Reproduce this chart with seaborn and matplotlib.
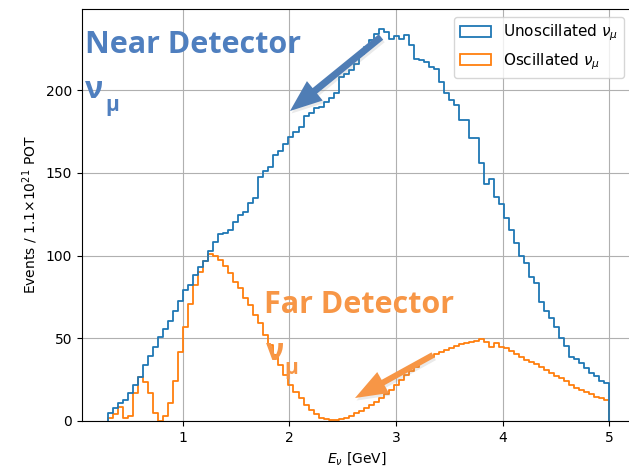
import numpy as np
import pandas as pd
import matplotlib
matplotlib.use("Agg")
import matplotlib.pyplot as plt
from matplotlib.patches import FancyArrow, Patch
from matplotlib.transforms import IdentityTransform
import seaborn as sns

# Binning of the neutrino energy spectrum [GeV]
E_MIN, E_MAX, N_BINS = 0.3, 5.0, 100

# Near-detector (unoscillated) muon-neutrino events per bin
unoscillated = [
    4.6, 7.7, 11, 12.7, 16.7, 21.7, 26.4, 33.8, 39.3, 44.9,
    50.6, 55.4, 60.6, 66.7, 72.7, 79, 82, 88, 93, 97,
    103, 108, 113, 113.5, 115.4, 120.4, 124.5, 126.5, 131.5, 134.6,
    147.6, 151, 153.7, 160.7, 163, 167.2, 171.8, 174.8, 177.8, 184.5,
    185.9, 189, 190, 193, 195, 198, 208, 210, 212, 216,
    222, 226, 230, 234, 237, 235, 231, 232.6, 231, 233,
    227, 219, 218, 217, 214, 213, 205, 198, 194, 191,
    182, 182, 171, 171, 156, 143, 146, 135.5, 131, 122.5,
    115.4, 107.8, 99.7, 95.7, 87.2, 83.2, 72, 66.7, 62, 56.6,
    50, 45.3, 38.9, 37.3, 34.8, 31.8, 28.8, 27.2, 24.4, 23,
]

# Far-detector (oscillated) muon-neutrino events per bin
oscillated = [
    2, 4, 8.7, 2, 3, 16.7, 26.8, 23.8, 16.7, 5,
    0.2, 3, 10.7, 24, 42, 57, 71, 82, 90, 97,
    101, 100, 97.3, 93.8, 89.2, 84.2, 80.2, 74.1, 70.1, 64,
    59, 52, 45.9, 39.9, 33.8, 27.8, 21.7, 17.7, 13.7, 9.7,
    6.6, 4, 2, 1.2, 0.6, 0.6, 1.2, 2, 3.2, 4.6,
    6, 7.7, 9.7, 11.7, 14.1, 16.1, 18.7, 21.8, 24.8, 27.8,
    30.2, 32.8, 35.4, 37.4, 38.9, 40.3, 41.9, 42.9, 43.9, 45.5,
    46.3, 46.9, 47.9, 48.5, 49.5, 47.5, 44.9, 46.9, 44.9, 43.9,
    42.3, 40.3, 38.5, 36.9, 35.4, 34.2, 32.8, 30.8, 28.8, 27.4,
    25.8, 24.2, 21.8, 20.1, 18.7, 17.7, 16.1, 14.7, 13.7, 12.7,
]

series_labels = ["Unoscillated $\\nu_\\mu$", "Oscillated $\\nu_\\mu$"]
x_ticks = [1, 2, 3, 4, 5]
y_ticks = [0, 50, 100, 150, 200]

LINE_COLORS = ["#1f77b4", "#ff7f0e"]
BLUE_NOTE = "#4f7fbf"
ORANGE_NOTE = "#f79646"

bin_width = (E_MAX - E_MIN) / N_BINS
centers = E_MIN + bin_width * (np.arange(N_BINS) + 0.5)
df = pd.concat(
    [
        pd.DataFrame({"energy": centers, "events": unoscillated, "sample": series_labels[0]}),
        pd.DataFrame({"energy": centers, "events": oscillated, "sample": series_labels[1]}),
    ],
    ignore_index=True,
)

sns.set_style(
    "ticks",
    rc={
        "axes.grid": True,
        "grid.color": "#b0b0b0",
        "grid.linewidth": 0.8,
        "axes.edgecolor": "black",
        "axes.linewidth": 0.8,
        "xtick.color": "black",
        "ytick.color": "black",
        "text.color": "black",
        "axes.labelcolor": "black",
    },
)
plt.rcParams["font.family"] = ["DejaVu Sans"]
plt.rcParams["mathtext.fontset"] = "dejavusans"

W, H = 629, 472
fig = plt.figure(figsize=(W / 100, H / 100), dpi=100)
ax = fig.add_axes([82 / W, 51 / H, 550 / W, 412 / H])

sns.histplot(
    data=df, x="energy", weights="events", hue="sample", hue_order=series_labels,
    bins=N_BINS, binrange=(E_MIN, E_MAX), element="step", fill=False,
    palette=LINE_COLORS, linewidth=1.3, legend=False, ax=ax,
)

# Close each step outline down to zero at both ends, like a step histogram
for line in ax.lines:
    xs, ys = line.get_data()
    xs = np.asarray(xs, dtype=float)
    ys = np.asarray(ys, dtype=float)
    line.set_data(np.r_[xs[0], xs, xs[-1]], np.r_[0.0, ys, 0.0])

ax.set_xlim(0.056, 5.213)
ax.set_ylim(0, 249)
ax.set_xticks(x_ticks)
ax.set_yticks(y_ticks)
ax.tick_params(labelsize=10)
ax.set_xlabel("$E_\\nu$ [GeV]", fontsize=10)
ax.set_ylabel("Events / 1.1$\\times10^{21}$ POT", fontsize=10)

handles = [Patch(facecolor="none", edgecolor=c, linewidth=1.3) for c in LINE_COLORS]
ax.legend(handles, series_labels, loc="upper right", fontsize=11, framealpha=0.8)


def px(x, y):
    """Pixel position measured from the top-left corner -> figure fraction."""
    return x / W, 1 - y / H


NOTE_FONT = ["Open Sans", "DejaVu Sans"]

fig.text(*px(85, 53), "Near Detector", color=BLUE_NOTE, fontsize=22,
         fontweight="bold", family=NOTE_FONT, va="baseline", ha="left")
fig.text(*px(85, 98), "ν", color=BLUE_NOTE, fontsize=22,
         fontweight="bold", family=NOTE_FONT, va="baseline", ha="left")
fig.text(*px(105, 111), "μ", color=BLUE_NOTE, fontsize=15,
         fontweight="bold", family=NOTE_FONT, va="baseline", ha="left")

fig.text(*px(264, 313), "Far Detector", color=ORANGE_NOTE, fontsize=22,
         fontweight="bold", family=NOTE_FONT, va="baseline", ha="left")
fig.text(*px(266, 360), "ν", color=ORANGE_NOTE, fontsize=22,
         fontweight="bold", family=NOTE_FONT, va="baseline", ha="left")
fig.text(*px(284, 374), "μ", color=ORANGE_NOTE, fontsize=15,
         fontweight="bold", family=NOTE_FONT, va="baseline", ha="left")


def callout_arrow(tail, tip, color, shaft, head_w, head_l):
    x0, y0 = tail[0], H - tail[1]
    x1, y1 = tip[0], H - tip[1]
    kw = dict(width=shaft, head_width=head_w, head_length=head_l,
              length_includes_head=True, transform=IdentityTransform(), linewidth=0)
    shadow = FancyArrow(x0 + 1.5, y0 - 2.5, x1 - x0, y1 - y0, color="#8c8c8c", alpha=0.18, **kw)
    main = FancyArrow(x0, y0, x1 - x0, y1 - y0, color=color, **kw)
    fig.add_artist(shadow)
    fig.add_artist(main)


callout_arrow((381, 37), (290, 111), "#4f7db5", 7, 25, 32)
callout_arrow((433, 355), (355, 398), ORANGE_NOTE, 6, 24, 32)

fig.savefig("out.png", dpi=100)
